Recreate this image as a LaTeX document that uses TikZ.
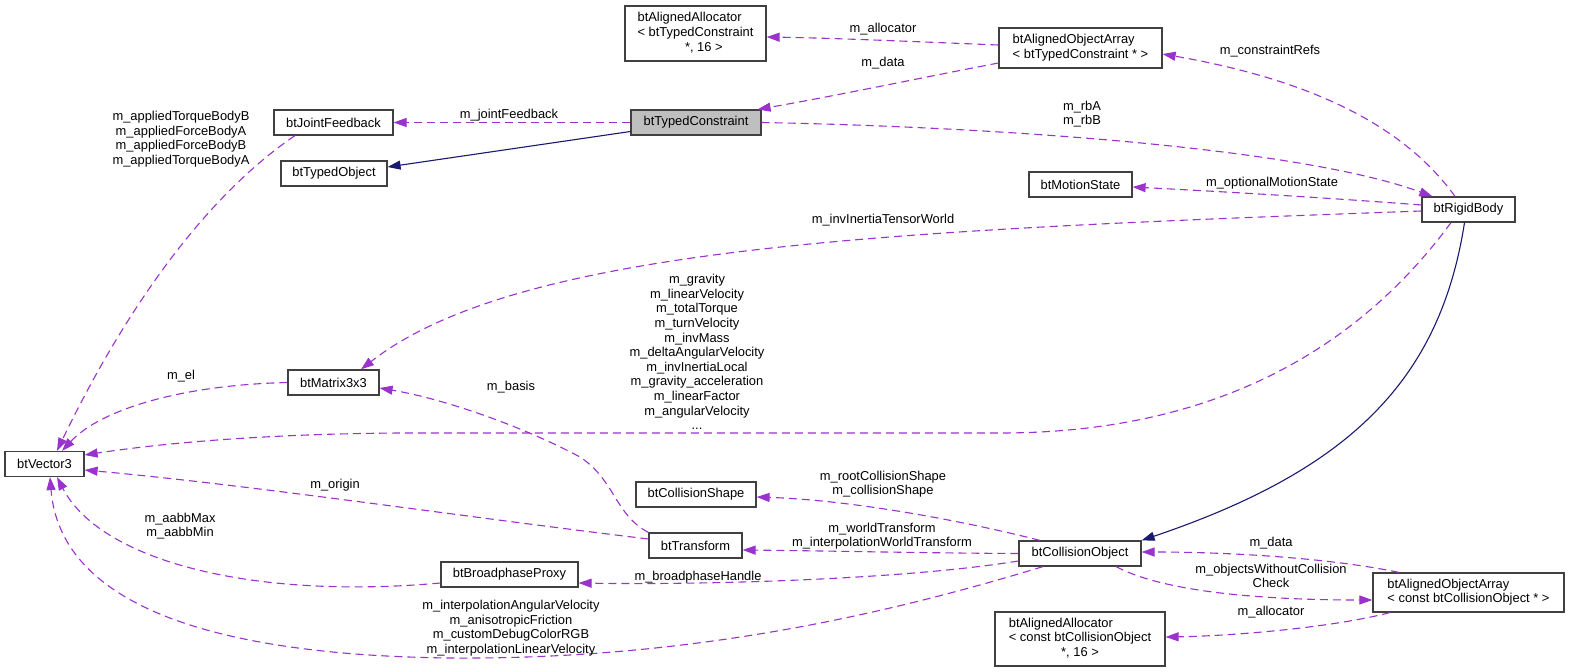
\documentclass[tikz,border=0pt]{standalone}
\usepackage{fontspec}
\setmainfont{Liberation Sans}
\usetikzlibrary{arrows.meta}
\definecolor{edgepurple}{HTML}{9A32CD}
\definecolor{inhblue}{HTML}{191970}
\definecolor{boxborder}{HTML}{404040}
\definecolor{mainfill}{HTML}{BFBFBF}
\newcommand{\dxfont}{\fontsize{12.9}{14.6}\selectfont}
\begin{document}
\begin{tikzpicture}[x=1pt,y=-1pt,
  cls/.style={draw=boxborder, line width=1.2pt, fill=white, inner sep=0pt, font=\dxfont, align=center},
  lbl/.style={inner sep=0pt, font=\dxfont, align=center},
  mem/.style={draw=edgepurple, dash pattern=on 8pt off 5pt, line width=1.1pt, -{Triangle[length=13pt,width=9pt,fill=edgepurple]}},
  inh/.style={draw=inhblue, line width=1.1pt, -{Triangle[length=13pt,width=9pt,fill=inhblue]}}]
\useasboundingbox[fill=white] (0,0) rectangle (1569,672);

% classes
\node[cls, minimum width=141pt, minimum height=55pt] (allocTC) at (695.5,33.5)
  {\begin{tabular}{@{}l@{}}btAlignedAllocator\\< btTypedConstraint\\\multicolumn{1}{@{}c@{}}{\hspace{1.3em}*, 16 >}\end{tabular}};
\node[cls, minimum width=163pt, minimum height=40pt] (arrTC) at (1080.5,48)
  {\begin{tabular}{@{}l@{}}btAlignedObjectArray\\< btTypedConstraint * >\end{tabular}};
\node[cls, fill=mainfill, minimum width=130pt, minimum height=25pt] (typedC) at (696,122.5) {btTypedConstraint};
\node[cls, minimum width=119pt, minimum height=25pt] (jointFB) at (333.5,122.5) {btJointFeedback};
\node[cls, minimum width=106pt, minimum height=25pt] (typedObj) at (334,173.5) {btTypedObject};
\node[cls, minimum width=103pt, minimum height=25pt] (motion) at (1080.5,184.5) {btMotionState};
\node[cls, minimum width=93pt, minimum height=25pt] (rigid) at (1468.5,209.5) {btRigidBody};
\node[cls, minimum width=91pt, minimum height=25pt] (matrix) at (333.5,382.5) {btMatrix3x3};
\node[cls, minimum width=79pt, minimum height=25pt] (vec3) at (44.5,464) {btVector3};
\node[cls, minimum width=120pt, minimum height=25pt] (collShape) at (696,494.5) {btCollisionShape};
\node[cls, minimum width=93pt, minimum height=25pt] (transform) at (695.5,545.5) {btTransform};
\node[cls, minimum width=137pt, minimum height=25pt] (broad) at (509.5,574.5) {btBroadphaseProxy};
\node[cls, minimum width=122pt, minimum height=25pt] (collObj) at (1080,553.5) {btCollisionObject};
\node[cls, minimum width=191pt, minimum height=39pt] (arrCO) at (1468.5,592.5)
  {\begin{tabular}{@{}l@{}}btAlignedObjectArray\\< const btCollisionObject * >\end{tabular}};
\node[cls, minimum width=170pt, minimum height=54pt] (allocCO) at (1080,639)
  {\begin{tabular}{@{}l@{}}btAlignedAllocator\\< const btCollisionObject\\\multicolumn{1}{@{}c@{}}{*, 16 >}\end{tabular}};

% edges
\draw[mem] ([yshift=3pt]arrTC.west) .. controls (900,41) and (830,38) .. ([yshift=-3.5pt]allocTC.east);
\draw[mem] ([yshift=-15pt]arrTC.west) .. controls (920,78) and (840,95) .. ([xshift=-4pt]typedC.north east);
\draw[mem] (typedC.west) -- (jointFB.east);
\draw[inh] ([yshift=-9pt]typedC.west) -- ([yshift=6.5pt]typedObj.east);
\draw[mem] (typedC.east) .. controls (1000,127) and (1300,148) .. ([xshift=11pt]rigid.north west);
\draw[mem] ([xshift=-13.5pt]rigid.north) .. controls (1400,120) and (1300,78) .. ([yshift=-6pt]arrTC.east);
\draw[mem] ([yshift=4.5pt]rigid.west) .. controls (1330,198) and (1230,192) .. ([yshift=-2.5pt]motion.east);
\draw[mem] ([yshift=-1.5pt]rigid.west) .. controls (900,230) and (520,245) .. ([xshift=27.5pt]matrix.north);
\draw[mem] ([xshift=-17.5pt]rigid.south) .. controls (1350,360) and (1200,433) .. (1000,433) -- (400,433) .. controls (250,434) and (150,445) .. ([yshift=9pt]vec3.east);
\draw[mem] ([xshift=-38.5pt]jointFB.south) .. controls (200,200) and (120,320) .. ([xshift=12.5pt]vec3.north);
\draw[mem] (matrix.west) .. controls (180,385) and (100,410) .. ([xshift=17.5pt]vec3.north);
\draw[mem] (transform.north west) .. controls (615,515) and (615,480) .. (580,457) .. controls (530,430) and (450,400) .. ([yshift=-5.5pt]matrix.east);
\draw[mem] ([yshift=6.5pt]transform.west) .. controls (450,515) and (250,485) .. ([yshift=-6pt]vec3.east);
\draw[mem] ([yshift=-8.5pt]broad.west) .. controls (250,600) and (100,560) .. ([xshift=12.5pt]vec3.south);
\draw[mem] ([xshift=-37pt]collObj.south) .. controls (900,610) and (700,660) .. (450,658) .. controls (200,655) and (60,600) .. ([xshift=5.5pt]vec3.south);
\draw[mem] ([xshift=-40pt]collObj.north) .. controls (960,520) and (850,500) .. ([yshift=-2.5pt]collShape.east);
\draw[mem] (collObj.west) .. controls (920,553) and (840,551) .. ([yshift=-4.5pt]transform.east);
\draw[mem] ([yshift=-7.5pt]collObj.west) .. controls (900,580) and (700,585) .. ([yshift=-8.5pt]broad.east);
\draw[inh] ([xshift=-4pt]rigid.south) .. controls (1440,380) and (1350,470) .. (collObj.north east);
\draw[mem] ([xshift=-69.5pt]arrCO.north) .. controls (1330,558) and (1230,552) .. ([yshift=1.5pt]collObj.east);
\draw[mem] ([xshift=36pt]collObj.south) .. controls (1160,590) and (1250,600) .. ([yshift=-7.5pt]arrCO.west);
\draw[mem] ([xshift=-78.5pt]arrCO.south) .. controls (1330,628) and (1230,636) .. ([yshift=2pt]allocCO.east);

% labels
\node[lbl] (lAllocTC) at (883,29) {m\_allocator};
\node[lbl] (lDataTC) at (883,63) {m\_data};
\node[lbl] (lJoint) at (509,115) {m\_jointFeedback};
\node[lbl] (lRb) at (1082,114) {m\_rbA\\m\_rbB};
\node[lbl] (lRefs) at (1270,51) {m\_constraintRefs};
\node[lbl] (lMotion) at (1272,183) {m\_optionalMotionState};
\node[lbl] (lInv) at (883,220) {m\_invInertiaTensorWorld};
\node[lbl] (lGrav) at (697,352) {m\_gravity\\m\_linearVelocity\\m\_totalTorque\\m\_turnVelocity\\m\_invMass\\m\_deltaAngularVelocity\\m\_invInertiaLocal\\m\_gravity\_acceleration\\m\_linearFactor\\m\_angularVelocity\\...};
\node[lbl] (lApplied) at (181,139) {m\_appliedTorqueBodyB\\m\_appliedForceBodyA\\m\_appliedForceBodyB\\m\_appliedTorqueBodyA};
\node[lbl] (lEl) at (181,376) {m\_el};
\node[lbl] (lBasis) at (511,387) {m\_basis};
\node[lbl] (lOrigin) at (335,485) {m\_origin};
\node[lbl] (lAabb) at (180,526) {m\_aabbMax\\m\_aabbMin};
\node[lbl] (lInterp) at (511,628) {m\_interpolationAngularVelocity\\m\_anisotropicFriction\\m\_customDebugColorRGB\\m\_interpolationLinearVelocity};
\node[lbl] (lShape) at (883,484) {m\_rootCollisionShape\\m\_collisionShape};
\node[lbl] (lWorld) at (882,536) {m\_worldTransform\\m\_interpolationWorldTransform};
\node[lbl] (lBroad) at (698,577) {m\_broadphaseHandle};
\node[lbl] (lDataCO) at (1271,543) {m\_data};
\node[lbl] (lObjs) at (1271,576) {m\_objectsWithoutCollision\\Check};
\node[lbl] (lAllocCO) at (1271,612) {m\_allocator};
\end{tikzpicture}
\end{document}
